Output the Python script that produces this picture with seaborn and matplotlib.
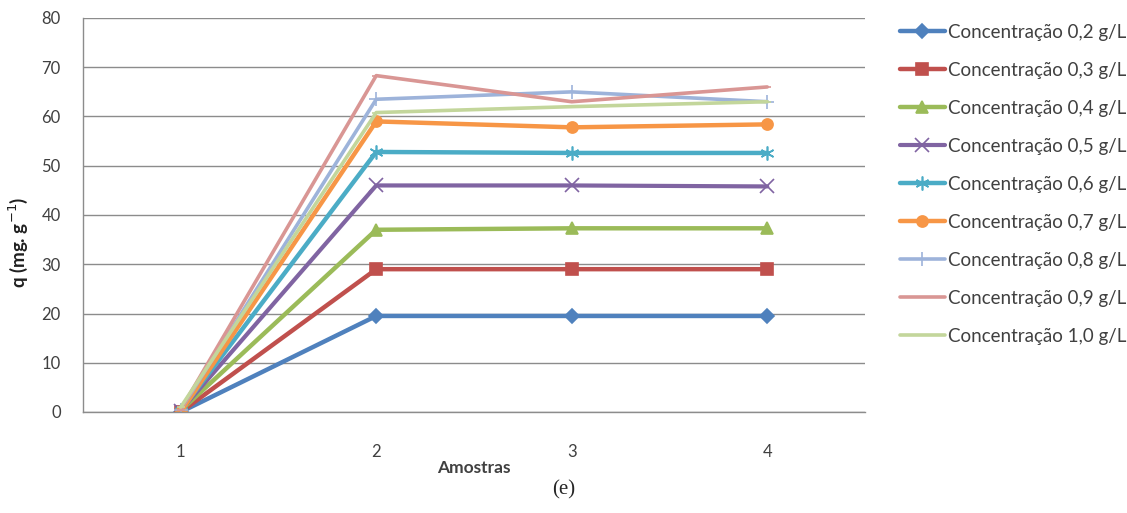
import numpy as np
import pandas as pd
import matplotlib
matplotlib.use("Agg")
import matplotlib.pyplot as plt
import seaborn as sns

# Sample index on the horizontal axis
amostras = [1, 2, 3, 4]

# Adsorbed amount q (mg/g) for each initial concentration
series_labels = [
    "Concentração 0,2 g/L",
    "Concentração 0,3 g/L",
    "Concentração 0,4 g/L",
    "Concentração 0,5 g/L",
    "Concentração 0,6 g/L",
    "Concentração 0,7 g/L",
    "Concentração 0,8 g/L",
    "Concentração 0,9 g/L",
    "Concentração 1,0 g/L",
]
q_02 = [0.0, 19.5, 19.5, 19.5]
q_03 = [0.0, 29.0, 29.0, 29.0]
q_04 = [0.3, 37.0, 37.3, 37.3]
q_05 = [0.3, 46.0, 46.0, 45.8]
q_06 = [0.3, 52.8, 52.6, 52.6]
q_07 = [0.0, 59.0, 57.8, 58.4]
q_08 = [0.5, 63.5, 65.0, 63.0]
q_09 = [0.5, 68.3, 63.0, 66.0]
q_10 = [1.0, 60.8, 62.0, 63.0]
series_values = [q_02, q_03, q_04, q_05, q_06, q_07, q_08, q_09, q_10]

y_ticks = [0, 10, 20, 30, 40, 50, 60, 70, 80]

colors = ["#4F81BD", "#C0504D", "#9BBB59", "#8064A2", "#4BACC6",
          "#F79646", "#9DB3DA", "#D99694", "#C3D69B"]
markers = ["D", "s", "^", "x", (6, 2, 0), "o", "+", "_", "_"]
msizes = [7, 9, 8, 10, 10, 8, 10, 6, 6]
lwidths = [3.2, 3.2, 3.2, 3.0, 3.2, 3.2, 2.6, 2.6, 2.6]

rows = []
for lab, vals in zip(series_labels, series_values):
    for a, v in zip(amostras, vals):
        rows.append({"Amostras": a, "q": v, "serie": lab})
df = pd.DataFrame(rows)

sns.set_theme(style="white")
plt.rcParams["font.family"] = ["Lato", "DejaVu Sans"]

fig = plt.figure(figsize=(11.27, 5.13), dpi=100)
ax = fig.add_axes([83 / 1127, 1 - 412 / 513, (865 - 83) / 1127, (412 - 18) / 513])

for lab, c, m, ms, lw in zip(series_labels, colors, markers, msizes, lwidths):
    sub = df[df["serie"] == lab]
    sns.lineplot(data=sub, x="Amostras", y="q", ax=ax, color=c, marker=m,
                 markersize=ms, markeredgecolor=c, markerfacecolor=c,
                 markeredgewidth=1.2, linewidth=lw, label=lab)

ax.set_xlim(0.5, 4.5)
ax.set_ylim(0, 80)
ax.set_xticks(amostras)
ax.set_xticklabels([str(a) for a in amostras])
ax.set_yticks(y_ticks)
ax.grid(axis="y", color="#8C8C8C", linewidth=1.0)
ax.set_axisbelow(True)
for side in ["top", "right"]:
    ax.spines[side].set_visible(False)
for side in ["left", "bottom"]:
    ax.spines[side].set_color("#8C8C8C")
    ax.spines[side].set_linewidth(1.0)
ax.tick_params(axis="both", labelsize=12, colors="#404040", length=0)
ax.tick_params(axis="y", pad=16)
ax.tick_params(axis="x", pad=23)

ax.set_xlabel("Amostras", fontsize=12.5, fontweight="bold", color="#404040", labelpad=0)
ax.set_ylabel("q (mg. g$^{-1}$)", fontsize=13.5, fontweight="bold", color="#202020")
ax.yaxis.set_label_coords(-0.068, 0.43)

leg = ax.legend(loc="upper left", bbox_to_anchor=(1.035, 1.005), frameon=False,
                fontsize=13.5, handlelength=2.4, labelspacing=1.12,
                handletextpad=0.15, borderaxespad=0.0)
for t in leg.get_texts():
    t.set_color("#404040")

fig.text(0.5, 1 - 490 / 513, "(e)", ha="center", va="center",
         fontsize=15, fontfamily="Liberation Serif")

fig.savefig("out.png", dpi=100, facecolor="white")
